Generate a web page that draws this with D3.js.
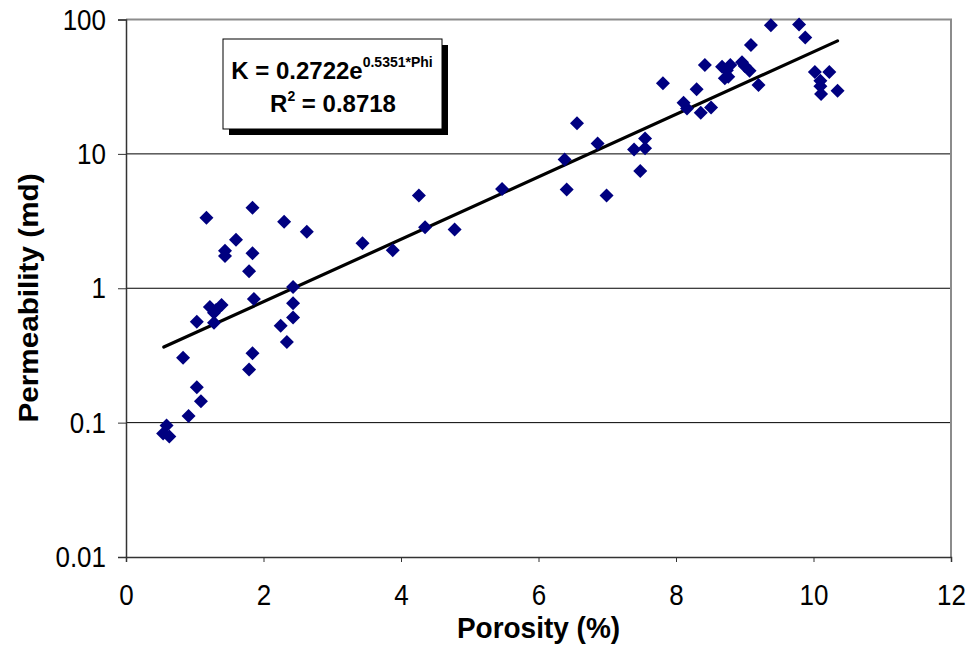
<!DOCTYPE html>
<html>
<head>
<meta charset="utf-8">
<script src="https://cdn.jsdelivr.net/npm/d3@7"></script>
<style>
  body { margin: 0; background: #fff; }
  text { font-family: "Liberation Sans", Arial, sans-serif; }
</style>
</head>
<body>
<div id="chart"></div>
<script>
// porosity (%) and permeability (md)
const porosity = [
  0.59, 0.54, 0.63, 0.91, 1.03, 1.09, 0.83, 1.03, 1.22, 1.31,
  1.39, 1.28, 1.28, 1.17, 1.44, 1.44, 1.60, 1.84, 1.84, 1.79,
  1.86, 1.84, 1.79, 2.30, 2.63, 2.43, 2.43, 2.43, 2.25, 2.34,
  3.44, 3.88, 4.26, 4.35, 4.78, 5.47, 6.38, 6.41, 6.56, 6.86,
  6.99, 7.39, 7.48, 7.55, 7.55, 7.81, 8.11, 8.16, 8.30, 8.36,
  8.51, 8.42, 8.67, 8.79, 8.74, 8.76, 8.71, 8.96, 9.00, 9.07,
  9.09, 9.20, 9.38, 9.79, 9.88, 10.02, 10.23, 10.10, 10.10, 10.11,
  10.35
];
const permeability = [
  0.095, 0.083, 0.079, 0.112, 0.183, 0.144, 0.304, 0.564, 0.724, 0.689,
  0.75, 0.658, 0.553, 3.35, 1.90, 1.74, 2.30, 3.97, 1.82, 1.34,
  0.832, 0.328, 0.248, 3.13, 2.63, 1.02, 0.773, 0.607, 0.526, 0.398,
  2.16, 1.92, 4.91, 2.84, 2.74, 5.47, 9.10, 5.44, 16.9, 11.97,
  4.91, 10.8, 7.45, 11.0, 13.0, 33.5, 24.0, 21.8, 30.2, 20.2,
  22.1, 45.8, 44.5, 45.8, 42.0, 37.5, 36.5, 48.0, 45.0, 41.5,
  64.5, 32.5, 90.8, 91.6, 73.6, 40.6, 40.6, 35.0, 31.9, 27.9,
  29.5
];
// exponential trend line ends (straight on a log axis)
const trendX = [0.55, 10.35];
const trendY = [0.365, 69.3];

const xTicks = [0, 2, 4, 6, 8, 10, 12];
const yTicks = [0.01, 0.1, 1, 10, 100];
const yTickLabels = ["0.01", "0.1", "1", "10", "100"];

const width = 972, height = 668;
const margin = { top: 19.5, right: 21, bottom: 111, left: 126 };
const innerW = width - margin.left - margin.right;
const innerH = height - margin.top - margin.bottom;
const stretch = 1.12; // the original picture is stretched vertically

const svg = d3.select('#chart')
  .append('svg')
  .attr('width', width)
  .attr('height', height);

const g = svg.append('g')
  .attr('transform', `translate(${margin.left},${margin.top})`);

const xScale = d3.scaleLinear().domain([0, 12]).range([0, innerW]);
const yScale = d3.scaleLog().domain([0.01, 100]).range([innerH, 0]);

// gridlines
g.append('g')
  .selectAll('line')
  .data(yTicks.slice(1, -1))
  .join('line')
  .attr('x1', 0)
  .attr('x2', innerW)
  .attr('y1', d => yScale(d))
  .attr('y2', d => yScale(d))
  .attr('stroke', '#000')
  .attr('stroke-width', 1);

// top and right frame (gray)
g.append('path')
  .attr('d', `M0,0H${innerW}V${innerH}`)
  .attr('fill', 'none')
  .attr('stroke', '#8c8c8c')
  .attr('stroke-width', 2);

// axes
const xAxis = d3.axisBottom(xScale)
  .tickValues(xTicks)
  .tickSize(5)
  .tickFormat(d3.format('d'));

const yAxis = d3.axisLeft(yScale)
  .tickValues(yTicks)
  .tickSize(8)
  .tickPadding(12)
  .tickFormat((d, i) => yTickLabels[i]);

const gx = g.append('g')
  .attr('transform', `translate(0,${innerH})`)
  .call(xAxis);
const gy = g.append('g').call(yAxis);

[gx, gy].forEach(a => {
  a.select('.domain').attr('stroke', '#333').attr('stroke-width', 1.5);
  a.selectAll('.tick line').attr('stroke', '#333');
  a.selectAll('.tick text').attr('fill', '#000');
});

gx.selectAll('.tick text')
  .style('font-size', '26px')
  .attr('dy', 0)
  .attr('y', 48 / stretch)
  .attr('transform', `scale(1,${stretch})`);

gy.selectAll('.tick text')
  .style('font-size', '26px')
  .attr('transform', `scale(1,1.15)`);

// trend line
g.append('path')
  .datum(trendX.map((x, i) => [x, trendY[i]]))
  .attr('fill', 'none')
  .attr('stroke', '#000')
  .attr('stroke-width', 3.2)
  .attr('stroke-linecap', 'round')
  .attr('d', d3.line().x(d => xScale(d[0])).y(d => yScale(d[1])));

// points
const data = porosity.map((p, i) => ({ p, k: permeability[i] }));
g.append('g')
  .selectAll('path')
  .data(data)
  .join('path')
  .attr('transform', d => `translate(${xScale(d.p)},${yScale(d.k)})`)
  .attr('d', 'M0,-7L7,0L0,7L-7,0Z')
  .attr('fill', '#000080');

// equation box
const box = svg.append('g').attr('transform', 'translate(223,39)');
box.append('rect')
  .attr('x', 6).attr('y', 6)
  .attr('width', 219).attr('height', 90)
  .attr('fill', '#000');
box.append('rect')
  .attr('width', 219).attr('height', 90)
  .attr('fill', '#fff')
  .attr('stroke', '#000')
  .attr('stroke-width', 1);

const eq = box.append('text')
  .attr('x', 109).attr('y', 40)
  .attr('text-anchor', 'middle')
  .style('font-weight', 'bold')
  .style('font-size', '24px');
eq.append('tspan').text('K = 0.2722e');
eq.append('tspan').attr('dy', -12).style('font-size', '14px').text('0.5351*Phi');

const r2 = box.append('text')
  .attr('x', 110).attr('y', 73)
  .attr('text-anchor', 'middle')
  .style('font-weight', 'bold')
  .style('font-size', '24px');
r2.append('tspan').text('R');
r2.append('tspan').attr('dy', -11).style('font-size', '14px').text('2');
r2.append('tspan').attr('dy', 11).text(' = 0.8718');

// axis titles
svg.append('text')
  .attr('transform', `translate(${margin.left + xScale(6)},638) scale(1,1.05)`)
  .attr('text-anchor', 'middle')
  .style('font-weight', 'bold')
  .style('font-size', '28px')
  .text('Porosity (%)');

svg.append('text')
  .attr('transform', `translate(38,298) rotate(-90) scale(1.1,1)`)
  .attr('text-anchor', 'middle')
  .style('font-weight', 'bold')
  .style('font-size', '27px')
  .text('Permeability (md)');
</script>
</body>
</html>
